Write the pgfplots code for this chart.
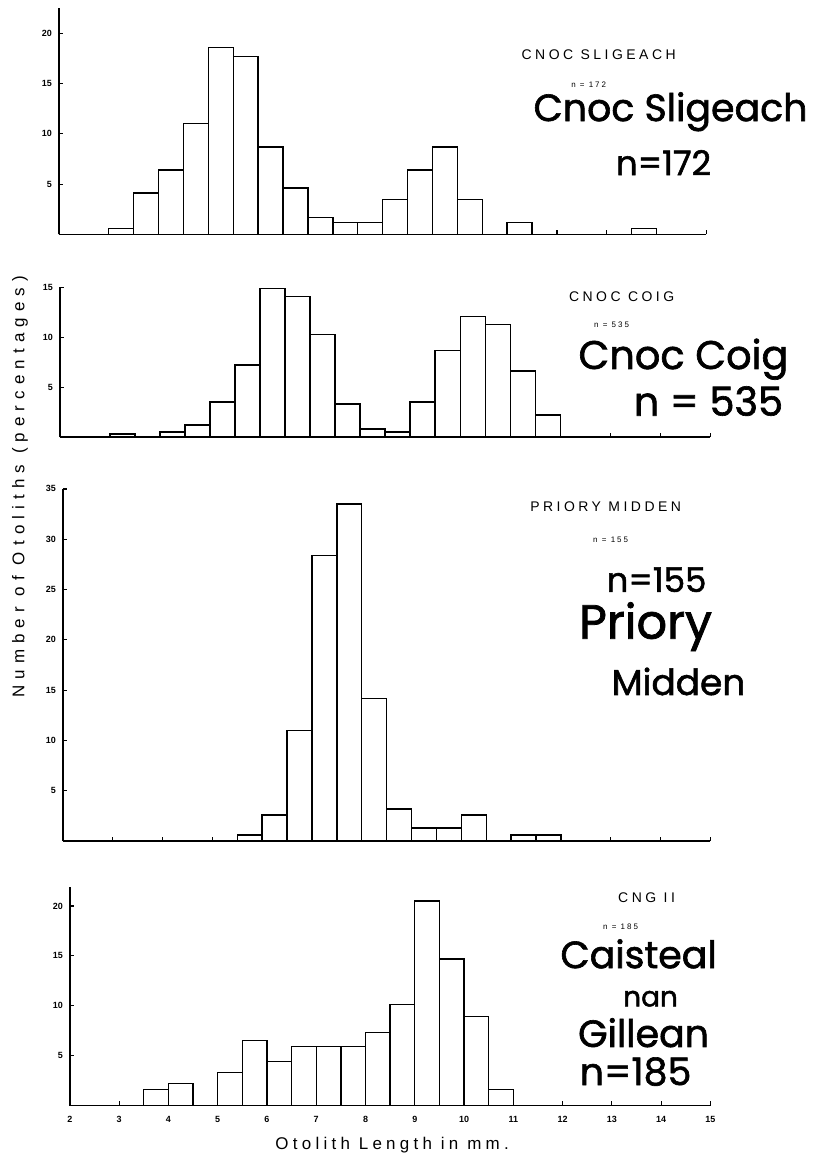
\documentclass[border=0pt]{standalone}
\usepackage{pgfplots}
\pgfplotsset{compat=1.18}
\usepackage{fontspec}
\setmainfont{Liberation Sans}
\newfontfamily\typed{Liberation Sans}[LetterSpace=25]
\newfontfamily\wide{Liberation Sans}[LetterSpace=36]
\newfontfamily\hand{Poppins}[FakeBold=1.6]

\pgfplotsset{
  panel/.style={
    scale only axis, xmin=2, xmax=15, ymin=0,
    axis x line=bottom, axis y line=left,
    axis line style={-, line width=0.9pt},
    xtick={2,...,15}, xticklabels={},
    tick align=inside, major tick length=2.2pt,
    tick style={line width=0.6pt, black},
    yticklabel style={font=\fontsize{4.5}{5}\selectfont\bfseries},
    xticklabel style={font=\fontsize{4.5}{5}\selectfont\bfseries},
    /pgf/number format/assume math mode=true,
    clip=false, anchor=south west,
  },
  hist/.style={ybar interval, draw=black, fill=none, line width=0.7pt},
}

\begin{document}
\begin{tikzpicture}[x=0.5pt,y=0.5pt, note/.style={inner sep=0pt}]
\path (0,0) rectangle (829,1160);

% Cnoc Sligeach
\begin{axis}[panel, at={(29.5pt,462.5pt)}, width=324.5pt, height=113.5pt,
  ymax=22.5, ytick={5,10,15,20}]
\addplot[hist] coordinates {
  (3.0,0.6) (3.5,4.1) (4.0,6.4) (4.5,11.0) (5.0,18.6) (5.5,17.7)
  (6.0,8.7) (6.5,4.6) (7.0,1.7) (7.5,1.2) (8.0,1.2) (8.5,3.5)
  (9.0,6.4) (9.5,8.7) (10.0,3.5) (10.5,0) (11.0,1.2) (11.5,0)
  (12.0,0) (12.5,0) (13.0,0) (13.5,0.6) (14.0,0)};
\end{axis}

% Cnoc Coig
\begin{axis}[panel, at={(30pt,361pt)}, width=326pt, height=75pt,
  ymax=15, ytick={5,10,15}]
\addplot[hist] coordinates {
  (3.0,0.3) (3.5,0) (4.0,0.5) (4.5,1.2) (5.0,3.5) (5.5,7.2)
  (6.0,14.9) (6.5,14.1) (7.0,10.3) (7.5,3.3) (8.0,0.8) (8.5,0.5)
  (9.0,3.5) (9.5,8.7) (10.0,12.1) (10.5,11.3) (11.0,6.6) (11.5,2.2)
  (12.0,0)};
\end{axis}

% Priory Midden
\begin{axis}[panel, at={(31.5pt,158.5pt)}, width=324.5pt, height=176.5pt,
  ymax=35, ytick={5,10,...,35}]
\addplot[hist] coordinates {
  (5.5,0.6) (6.0,2.6) (6.5,11.0) (7.0,28.4) (7.5,33.5) (8.0,14.2)
  (8.5,3.2) (9.0,1.3) (9.5,1.3) (10.0,2.6) (10.5,0) (11.0,0.6)
  (11.5,0.6) (12.0,0)};
\end{axis}

% CNG II
\begin{axis}[panel, at={(35pt,26pt)}, width=321pt, height=109.5pt,
  ymax=21.9, ytick={5,10,15,20}, xticklabels={2,...,15},
  xticklabel style={yshift=-2pt}]
\addplot[hist] coordinates {
  (3.5,1.6) (4.0,2.2) (4.5,0) (5.0,3.3) (5.5,6.5) (6.0,4.4)
  (6.5,5.9) (7.0,5.9) (7.5,5.9) (8.0,7.3) (8.5,10.1) (9.0,20.5)
  (9.5,14.7) (10.0,8.9) (10.5,1.6) (11.0,0)};
\end{axis}

% printed titles
\node[font=\typed\fontsize{7}{8}\selectfont] at (600,1105) {CNOC SLIGEACH};
\node[font=\typed\fontsize{4}{5}\selectfont] at (590,1075) {n = 172};
\node[font=\typed\fontsize{7}{8}\selectfont] at (623,863) {CNOC COIG};
\node[font=\typed\fontsize{4}{5}\selectfont] at (613,835) {n = 535};
\node[font=\typed\fontsize{7}{8}\selectfont] at (607,652) {PRIORY MIDDEN};
\node[font=\typed\fontsize{4}{5}\selectfont] at (612,619) {n = 155};
\node[font=\typed\fontsize{7}{8}\selectfont] at (648,260) {CNG II};
\node[font=\typed\fontsize{4}{5}\selectfont] at (622,231) {n = 185};

% handwritten notes
\node[note, font=\hand\fontsize{19}{20}\selectfont] at (672,1048) {Cnoc Sligeach};
\node[note, font=\hand\fontsize{17}{18}\selectfont] at (665,997) {n=172};
\node[note, font=\hand\fontsize{20}{21}\selectfont] at (685,800) {Cnoc Coig};
\node[note, font=\hand\fontsize{20}{21}\selectfont] at (710,758) {n = 535};
\node[note, font=\hand\fontsize{17}{18}\selectfont] at (658,579) {n=155};
\node[note, font=\hand\fontsize{24}{25}\selectfont] at (647,532) {Priory};
\node[note, font=\hand\fontsize{18}{19}\selectfont] at (680,477) {Midden};
\node[note, font=\hand\fontsize{19}{20}\selectfont] at (640,204) {Caisteal};
\node[note, font=\hand\fontsize{14}{15}\selectfont] at (652,159) {nan};
\node[note, font=\hand\fontsize{19}{20}\selectfont] at (645,125) {Gillean};
\node[note, font=\hand\fontsize{19}{20}\selectfont] at (637,86) {n=185};

% axis titles
\node[font=\typed\fontsize{8.5}{9}\selectfont] at (393,12) {Otolith Length in mm.};
\node[font=\wide\fontsize{8.5}{9}\selectfont, rotate=90] at (20,672) {Number of Otoliths (percentages)};
\end{tikzpicture}
\end{document}
